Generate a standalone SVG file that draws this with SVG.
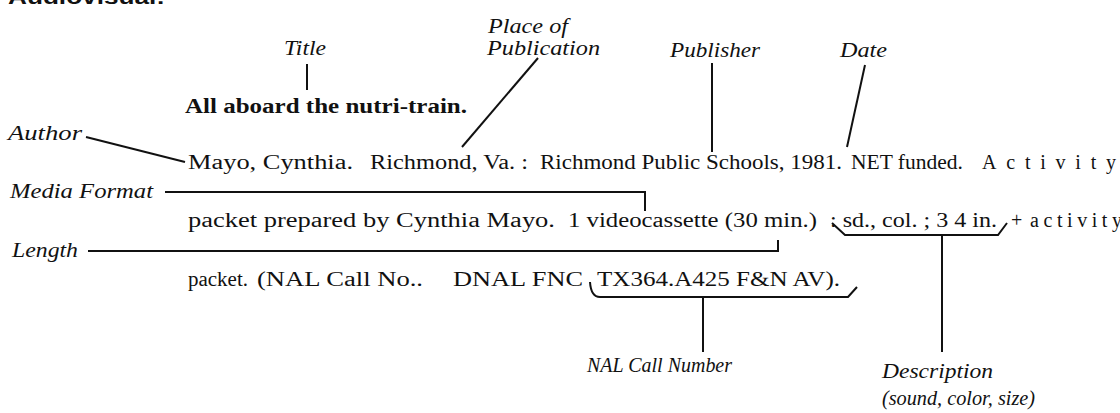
<svg xmlns="http://www.w3.org/2000/svg" width="1120" height="413" viewBox="0 0 1120 413">
<style>
.body{font-family:"Liberation Serif","Times New Roman",serif;font-size:20px;fill:#111}
.lbl{font-family:"Liberation Serif","Times New Roman",serif;font-size:20px;font-style:italic;fill:#111}
.ttl{font-family:"Liberation Serif","Times New Roman",serif;font-size:20px;font-weight:bold;fill:#111}
.hd{font-family:"Liberation Sans",Arial,sans-serif;font-size:20px;font-weight:bold;fill:#111}
.con{fill:none;stroke:#111;stroke-width:2;stroke-linejoin:miter}
</style>
<rect width="1120" height="413" fill="#fff"/>
<g id="heading"><text class="hd" x="8" y="4" textLength="157" lengthAdjust="spacingAndGlyphs">Audiovisual:</text></g>
<g id="label-title"><text class="lbl" x="284" y="55" textLength="42" lengthAdjust="spacingAndGlyphs">Title</text></g>
<g id="label-place"><text class="lbl" x="488" y="33" textLength="80" lengthAdjust="spacingAndGlyphs">Place of</text><text class="lbl" x="487" y="55" textLength="113" lengthAdjust="spacingAndGlyphs">Publication</text></g>
<g id="label-publisher"><text class="lbl" x="670" y="57" textLength="90" lengthAdjust="spacingAndGlyphs">Publisher</text></g>
<g id="label-date"><text class="lbl" x="840" y="57" textLength="47" lengthAdjust="spacingAndGlyphs">Date</text></g>
<g id="label-author"><text class="lbl" x="8" y="140" textLength="74" lengthAdjust="spacingAndGlyphs">Author</text></g>
<g id="label-media"><text class="lbl" x="10" y="198" textLength="143" lengthAdjust="spacingAndGlyphs">Media Format</text></g>
<g id="label-length"><text class="lbl" x="12" y="257" textLength="66" lengthAdjust="spacingAndGlyphs">Length</text></g>
<g id="label-nal"><text class="lbl" x="587" y="372" textLength="145" lengthAdjust="spacingAndGlyphs">NAL Call Number</text></g>
<g id="label-description"><text class="lbl" x="882" y="378" textLength="111" lengthAdjust="spacingAndGlyphs">Description</text><text class="lbl" x="882" y="405" textLength="153" lengthAdjust="spacingAndGlyphs">(sound, color, size)</text></g>
<g id="title-line"><text class="ttl" x="185" y="113" textLength="282" lengthAdjust="spacingAndGlyphs">All aboard the nutri-train.</text></g>
<g id="entry-line1">
<text class="body" x="188" y="169" textLength="165" lengthAdjust="spacingAndGlyphs">Mayo, Cynthia.</text>
<text class="body" x="370" y="169" textLength="158" lengthAdjust="spacingAndGlyphs">Richmond, Va. :</text>
<text class="body" x="540" y="169" textLength="302" lengthAdjust="spacingAndGlyphs">Richmond Public Schools, 1981.</text>
<text class="body" x="851" y="169" textLength="112" lengthAdjust="spacingAndGlyphs">NET funded.</text>
<text class="body" x="982" y="169" textLength="134" lengthAdjust="spacing">Activity</text>
</g>
<g id="entry-line2">
<text class="body" x="188" y="227" textLength="367" lengthAdjust="spacingAndGlyphs">packet prepared by Cynthia Mayo.</text>
<text class="body" x="568" y="227" textLength="249" lengthAdjust="spacingAndGlyphs">1 videocassette (30 min.)</text>
<text class="body" x="830" y="227" textLength="167" lengthAdjust="spacingAndGlyphs">: sd., col. ; 3 4 in.</text>
<text class="body" x="1011" y="227">+</text>
<text class="body" x="1030" y="227" textLength="92" lengthAdjust="spacing">activity</text>
</g>
<g id="entry-line3">
<text class="body" x="188" y="286" textLength="60" lengthAdjust="spacingAndGlyphs">packet.</text>
<text class="body" x="257" y="286" textLength="166" lengthAdjust="spacingAndGlyphs">(NAL Call No..</text>
<text class="body" x="453" y="286" textLength="130" lengthAdjust="spacingAndGlyphs">DNAL FNC</text>
<text class="body" x="597" y="286" textLength="243" lengthAdjust="spacingAndGlyphs">TX364.A425 F&amp;N AV).</text>
</g>
<g id="connectors">
<path class="con" d="M307,64 L307,90"/>
<path class="con" d="M538,58 L462,147"/>
<path class="con" d="M712,63 L712,152"/>
<path class="con" d="M865,65 L847,147"/>
<path class="con" d="M86,137 L185,162"/>
<path class="con" d="M165,192 L645,192 L645,211"/>
<path class="con" d="M88,251 L778,251 L778,240"/>
<path class="con" d="M832,223 L845,235 L998,235 L1007,223"/>
<path class="con" d="M942,235 L942,352"/>
<path class="con" d="M590,282 Q591,297 600,297 L848,297 L857,287"/>
<path class="con" d="M703,297 L703,352"/>
</g>
</svg>
